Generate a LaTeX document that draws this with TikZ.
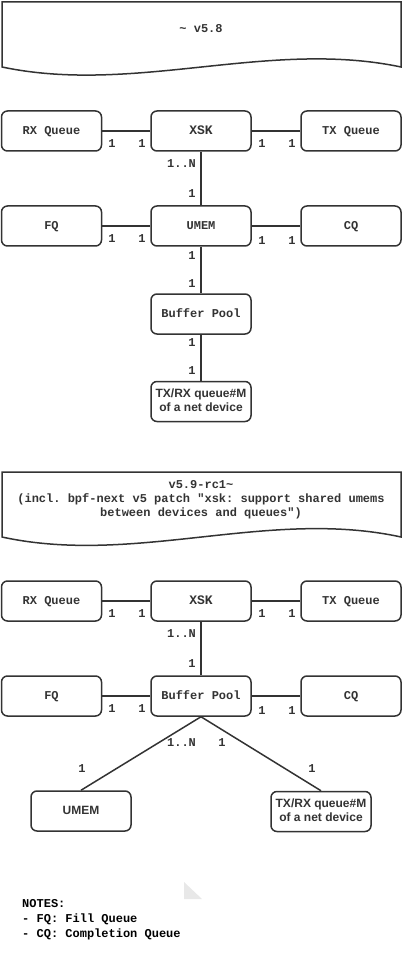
\documentclass[tikz,border=0pt]{standalone}
\usepackage{fontspec}
\setmonofont{Liberation Mono}
\newfontfamily\sansfam{Liberation Sans}
\definecolor{ink}{HTML}{333333}
\definecolor{faint}{HTML}{E8E8E8}
\begin{document}
\begin{tikzpicture}[x=1pt,y=-1pt,
  box/.style={draw=ink, line width=1.5pt, rounded corners=6pt,
    minimum width=100pt, minimum height=40pt, inner sep=0pt, text=ink,
    font=\ttfamily\bfseries\fontsize{12}{14}\selectfont,
    text height=0.72em, text depth=0.1em},
  bigbox/.style={box, font=\ttfamily\bfseries\fontsize{13}{16}\selectfont},
  sbox/.style={box, align=center,
    font=\sansfam\bfseries\fontsize{12}{14}\selectfont,
    text height=14pt+0.72em, text depth=0.1em},
  conn/.style={draw=ink, line width=1.5pt},
  lbl/.style={inner sep=0pt, text=ink,
    font=\ttfamily\bfseries\fontsize{12}{14}\selectfont,
    text height=0.72em, text depth=0.1em},
  docshape/.style={draw=ink, line width=1.5pt, fill=white},
  doctext/.style={inner sep=0pt, text=ink, align=center,
    font=\ttfamily\bfseries\fontsize{12}{14}\selectfont}
]
\useasboundingbox (0,0) rectangle (402,957);

% ---------- Section 1 ----------
\draw[docshape] (2,2) -- (401,2) -- (401,67)
  .. controls (268,39) and (135,95) .. (2,67) -- cycle;
\node[doctext, text height=0.72em, text depth=0.1em] (title1) at (201,29) {\textasciitilde{} v5.8};

\node[box] (rx1) at (51.5,131) {RX Queue};
\node[bigbox] (xsk1) at (201,131) {XSK};
\node[box] (tx1) at (351,131) {TX Queue};
\node[box] (fq1) at (51.5,226) {FQ};
\node[box] (umem1) at (201,226) {UMEM};
\node[box] (cq1) at (351,226) {CQ};
\node[box] (bp1) at (201,314) {Buffer Pool};
\node[sbox] (dev1) at (201,401.5) {TX/RX queue\#M\\of a net device};

\draw[conn] (rx1) -- (xsk1);
\draw[conn] (xsk1) -- (tx1);
\draw[conn] (xsk1) -- (umem1);
\draw[conn] (fq1) -- (umem1);
\draw[conn] (umem1) -- (cq1);
\draw[conn] (umem1) -- (bp1);
\draw[conn] (bp1) -- (dev1);

\node[lbl] (l1a) at (112,144) {1};
\node[lbl] (l1b) at (142,144) {1};
\node[lbl] (l1c) at (262,144) {1};
\node[lbl] (l1d) at (292,144) {1};
\node[lbl] (l1e) at (181.5,164) {1..N};
\node[lbl] (l1f) at (192,194) {1};
\node[lbl] (l1g) at (112,239) {1};
\node[lbl] (l1h) at (142,239) {1};
\node[lbl] (l1i) at (262,241) {1};
\node[lbl] (l1j) at (292,241) {1};
\node[lbl] (l1k) at (192,256) {1};
\node[lbl] (l1l) at (192,284) {1};
\node[lbl] (l1m) at (192,343) {1};
\node[lbl] (l1n) at (192,371) {1};

% ---------- Section 2 ----------
\draw[docshape] (2,472) -- (401,472) -- (401,537)
  .. controls (268,508) and (135,566) .. (2,537) -- cycle;
\node[doctext, text height=28pt+0.72em, text depth=0.1em] (title2) at (201,499)
  {v5.9-rc1\textasciitilde\\(incl. bpf-next v5 patch "xsk: support shared umems\\between devices and queues")};

\node[box] (rx2) at (51.5,601) {RX Queue};
\node[bigbox] (xsk2) at (201,601) {XSK};
\node[box] (tx2) at (351,601) {TX Queue};
\node[box] (fq2) at (51.5,696) {FQ};
\node[box] (bp2) at (201,696) {Buffer Pool};
\node[box] (cq2) at (351,696) {CQ};
\node[box, font=\sansfam\bfseries\fontsize{12}{14}\selectfont] (umem2) at (81,811) {UMEM};
\node[sbox] (dev2) at (321,811.5) {TX/RX queue\#M\\of a net device};

\draw[conn] (rx2) -- (xsk2);
\draw[conn] (xsk2) -- (tx2);
\draw[conn] (xsk2) -- (bp2);
\draw[conn] (fq2) -- (bp2);
\draw[conn] (bp2) -- (cq2);
\draw[conn] (bp2.south) -- (umem2.north);
\draw[conn] (bp2.south) -- (dev2.north);

\node[lbl] (l2a) at (112,614) {1};
\node[lbl] (l2b) at (142,614) {1};
\node[lbl] (l2c) at (262,614) {1};
\node[lbl] (l2d) at (292,614) {1};
\node[lbl] (l2e) at (181.5,634) {1..N};
\node[lbl] (l2f) at (192,664) {1};
\node[lbl] (l2g) at (112,709) {1};
\node[lbl] (l2h) at (142,709) {1};
\node[lbl] (l2i) at (262,711) {1};
\node[lbl] (l2j) at (292,711) {1};
\node[lbl] (l2k) at (181.5,743) {1..N};
\node[lbl] (l2l) at (222,743) {1};
\node[lbl] (l2m) at (82,769) {1};
\node[lbl] (l2n) at (312,769) {1};

% ---------- faint corner mark ----------
\fill[faint] (184,882) -- (202,899) -- (184,899) -- cycle;

% ---------- Notes ----------
\node[inner sep=0pt, anchor=west, align=left, text=black,
  font=\ttfamily\bfseries\fontsize{12}{15}\selectfont,
  text height=30pt+0.72em, text depth=0.1em] (notes) at (22,919)
  {NOTES:\\- FQ: Fill Queue\\- CQ: Completion Queue};
\end{tikzpicture}
\end{document}
